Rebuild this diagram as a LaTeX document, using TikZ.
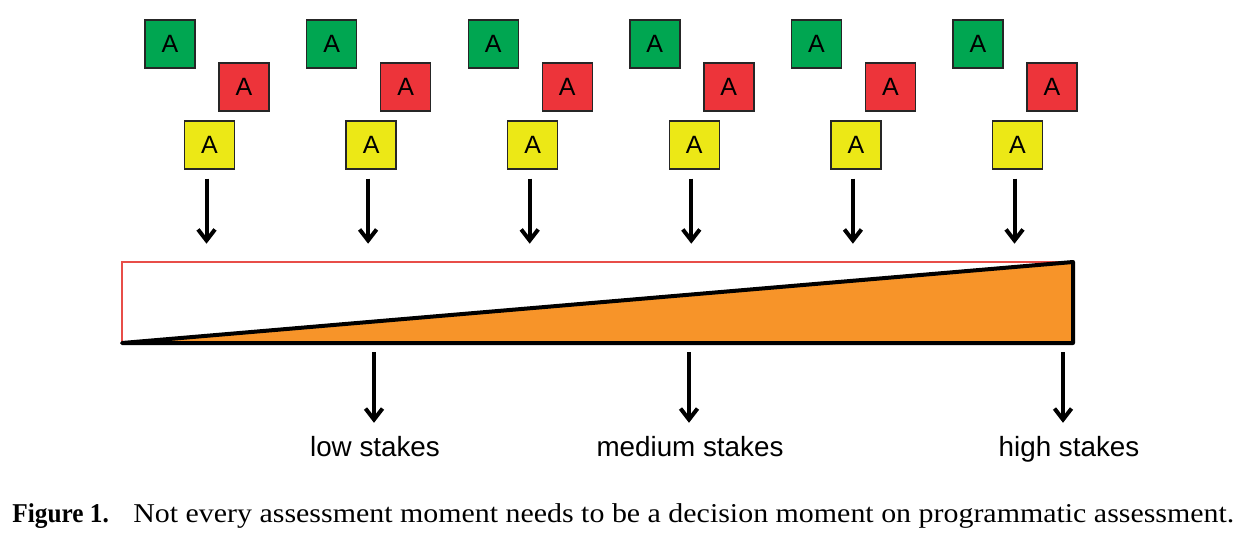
\documentclass[tikz,border=0pt]{standalone}
\usepackage{fontspec}
\setmainfont{Liberation Serif}
\setsansfont{Liberation Sans}
\usetikzlibrary{arrows.meta}
\usetikzlibrary{calc}

\definecolor{agreen}{RGB}{0,166,81}
\definecolor{ared}{RGB}{237,52,58}
\definecolor{ayellow}{RGB}{236,232,22}
\definecolor{aorange}{RGB}{247,148,41}
\definecolor{redline}{RGB}{232,78,72}

\begin{document}
\begin{tikzpicture}[x=0.5pt, y=-0.5pt,
  abox/.style={draw=black!85, line width=0.7pt, minimum width=25pt, minimum height=24pt, inner sep=0pt, font=\sffamily\fontsize{12.5}{14}\selectfont},
  arr/.style={line width=2pt, -{Straight Barb[length=5.5pt, width=8.5pt]}},
  stakes/.style={font=\sffamily\fontsize{13.9}{17}\selectfont, anchor=base}]

\useasboundingbox (0,0) rectangle (1247,537);

% assessment moments (green, red, yellow) with their arrows
\foreach \i in {0,...,5} {
  \node[abox, fill=agreen] (g\i) at (170+161.6*\i, 44) {A};
  \node[abox, fill=ared] (r\i) at (244+161.6*\i, 87) {A};
  \node[abox, fill=ayellow] (y\i) at (209.5+161.6*\i, 145) {A};
  \coordinate (t\i) at ($(y\i.south)+(-3,74)$);
  \draw[arr] ($(y\i.south)+(-3,9)$) -- (t\i);
}

%corners of the bar
\coordinate (tl) at (122,262);
\coordinate (tr) at (1073,262);
\coordinate (bl) at (122,343);
\coordinate (br) at (1073,343);

% empty bar and growing stakes
\draw[draw=redline, line width=0.8pt] (tl) rectangle (br);
\filldraw[fill=aorange, draw=black, line width=2pt, line join=round] (bl) -- (tr) -- (br) -- cycle;

% stakes labels
\node[stakes] (low) at (375,456) {low stakes};
\node[stakes] (med) at (690,456) {medium stakes};
\node[stakes] (high) at (1069,456) {high stakes};

% decision arrows
\coordinate (b1) at (374,352);
\coordinate (b2) at (689,352);
\coordinate (b3) at (1063,352);
\draw[arr, shorten >=3pt] (b1) -- (b1 |- low.north);
\draw[arr, shorten >=3pt] (b2) -- (b2 |- med.north);
\draw[arr, shorten >=3pt] (b3) -- (b3 |- high.north);

% caption
\node[anchor=base west, inner sep=0pt, font=\fontsize{13.6}{16}\selectfont] (caption) at (12,522)
  {{\addfontfeature{FakeStretch=0.93}\bfseries Figure 1.}\hspace{0.9em}{\addfontfeature{FakeStretch=1.1}Not every assessment moment needs to be a decision moment on programmatic assessment.}};

\end{tikzpicture}
\end{document}
